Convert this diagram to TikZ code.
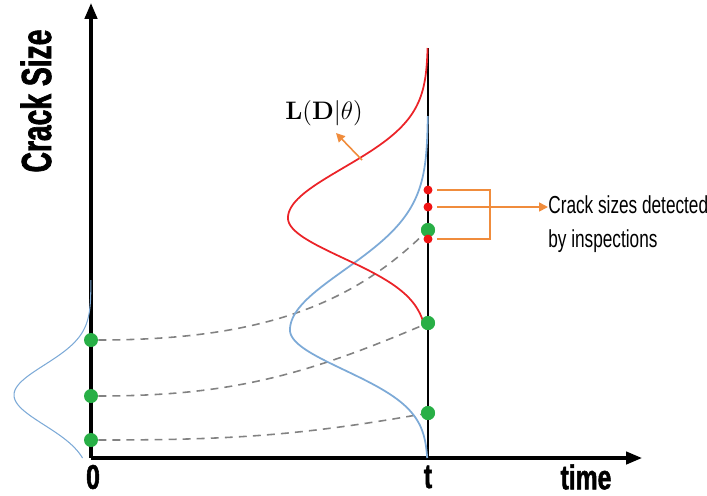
\documentclass[tikz,border=0pt]{standalone}
\usepackage[no-math]{fontspec}
\setmainfont{Liberation Sans}
\newfontfamily\condfont[FakeStretch=0.7]{Liberation Sans}
\newfontfamily\condbold[FakeStretch=0.72, FakeBold=1.5]{Liberation Sans Bold}
\newfontfamily\sizefont[FakeStretch=0.67, FakeBold=1.5]{Liberation Sans Bold}
\usetikzlibrary{arrows.meta}
\definecolor{curveblue}{RGB}{125, 170, 215}
\definecolor{curvered}{RGB}{235, 35, 40}
\definecolor{dotgreen}{RGB}{40, 175, 70}
\definecolor{dotred}{RGB}{240, 20, 20}
\definecolor{noteorange}{RGB}{240, 140, 60}
\definecolor{pathgray}{RGB}{130, 130, 130}

\begin{document}
\begin{tikzpicture}[x=0.02cm, y=-0.02cm,
        axis/.style={line width=1.8pt, -{Triangle[length=9pt, width=7pt]}},
        greendot/.style={circle, fill=dotgreen, inner sep=0pt, minimum size=0.28cm},
        reddot/.style={circle, fill=dotred, inner sep=0pt, minimum size=0.18cm},
        growth/.style={draw=pathgray, line width=0.9pt, dash pattern=on 4.5pt off 3.5pt},
        bracket/.style={draw=noteorange, line width=0.9pt},
        axislabel/.style={inner sep=0.5pt, font=\condbold\fontsize{19.5}{21}\selectfont}
      ]
        \useasboundingbox (0,0) rectangle (707,495);
        \coordinate (origin) at (91,458);
        \coordinate (ytop) at (91,3);
        \coordinate (xend) at (642,458);
        \coordinate (tfoot) at (428,458);
        \coordinate (ttop) at (428,48);
        \draw[axis] (origin) -- (ytop);
        \draw[axis] (origin) -- (xend);
        \draw[line width=1.1pt] (tfoot) -- (ttop);

        \node[axislabel] (zero) at (93,477) {0};
        \node[axislabel] (tlabel) at (428,477) {t};
        \node[axislabel] (timelabel) at (586,477) {time};
        \node[font=\sizefont\fontsize{24}{26}\selectfont, rotate=90] (sizelabel) at (36,101) {Crack Size};

        \node[greendot] (a1) at (91,340) {};
        \node[greendot] (a2) at (91,396) {};
        \node[greendot] (a3) at (91,440) {};
        \node[greendot] (b1) at (428,230) {};
        \node[greendot] (b2) at (428,323) {};
        \node[greendot] (b3) at (428,413) {};

        \draw[growth] (a1) .. controls (260,340) and (350,305) .. (b1);
        \draw[growth] (a2) to[out=0, in=203] (b2);
        \draw[growth] (a3) to[out=0, in=190] (b3);

        \draw[curveblue, line width=0.6pt] plot[domain=280:458, samples=90, variable=\y] ({91-77*exp(-0.5*((\y-395)/30)^2)}, \y);
        \draw[curveblue, line width=1pt] plot[domain=116:330, samples=90, variable=\y] ({428-138*exp(-0.5*((\y-330)/60)^2)}, \y)
          -- plot[domain=330:458, samples=70, variable=\y] ({428-138*exp(-0.5*((\y-330)/40)^2)}, \y);
        \draw[curvered, line width=1pt] plot[domain=48:218, samples=90, variable=\y] ({428-140*exp(-0.5*((\y-218)/50)^2)}, \y)
          -- plot[domain=218:323, samples=60, variable=\y] ({428-140*exp(-0.5*((\y-218)/40)^2)}, \y);

        \node[greendot] at (b1) {};
        \node[greendot] at (b2) {};
        \node[greendot] at (b3) {};
        \node[reddot] (r1) at (428,190) {};
        \node[reddot] (r2) at (428,207) {};
        \node[reddot] (r3) at (428,239) {};

        \node[font=\fontsize{14.5}{16}\selectfont] (lik) at (324,113) {$\mathbf{L}(\mathbf{D}|\theta)$};
        \coordinate (lhit) at (362,160);
        \coordinate (ltip) at (336,133);
        \draw[bracket, -{Triangle[length=5pt, width=5pt]}] (lhit) -- (ltip);

        \coordinate (knee) at (490,207);
        \node[anchor=west, align=left, inner sep=0pt, font=\condfont\fontsize{14}{19}\selectfont] (note) at (548,224) {Crack sizes detected\\by inspections};
        \draw[bracket, shorten <=0.09cm] (r1) -| (knee);
        \draw[bracket, shorten <=0.09cm] (r3) -| (knee);
        \draw[bracket, shorten <=0.09cm, -{Triangle[length=5pt, width=5pt]}] (r2) -- (note.west |- r2);
      \end{tikzpicture}
\end{document}
